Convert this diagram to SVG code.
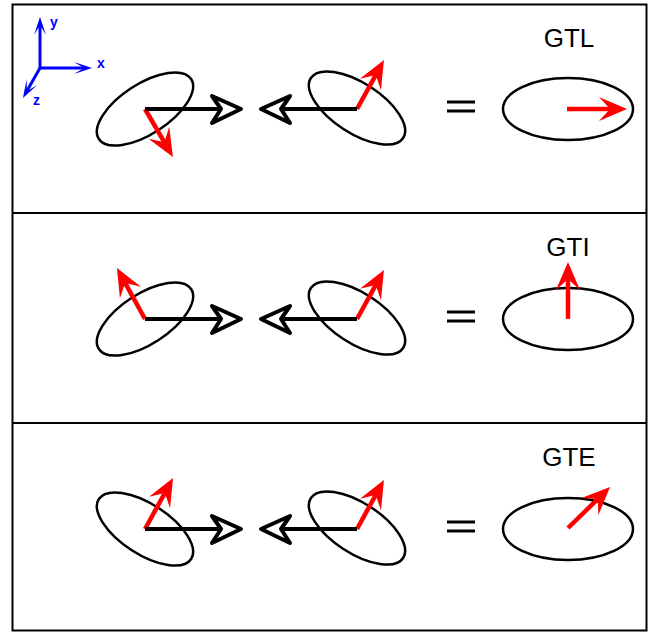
<svg xmlns="http://www.w3.org/2000/svg" width="659" height="633" viewBox="0 0 659 633">
<style>
.frame{fill:none;stroke:#000;stroke-width:2}
.ell{fill:none;stroke:#000;stroke-width:2.5}
.blk{stroke:#000;stroke-width:4;fill:none}
.head{stroke:#000;stroke-width:4;fill:#fff;stroke-linejoin:round}
.red{stroke:#ff0000;stroke-width:4.5;fill:none;marker-end:url(#rh)}
.blue{stroke:#0000ff;stroke-width:3;fill:none;marker-end:url(#bh)}
.eq{stroke:#000;stroke-width:3}
.lbl{font-family:"Liberation Sans",Arial,sans-serif;font-size:26px;fill:#000;text-anchor:middle}
.ax{font-family:"Liberation Sans",Arial,sans-serif;font-size:14px;font-weight:bold;fill:#0000ff}
</style>
<defs>
<marker id="rh" markerUnits="userSpaceOnUse" orient="auto" refX="-14" refY="0" markerWidth="40" markerHeight="40" overflow="visible">
<path d="M0,0 L-28,-12 L-17,0 L-28,12 Z" fill="#ff0000"/>
</marker>
<marker id="bh" markerUnits="userSpaceOnUse" orient="auto" refX="-8" refY="0" markerWidth="30" markerHeight="30" overflow="visible">
<path d="M0,0 L-18,-6 L-8,0 L-18,6 Z" fill="#0000ff"/>
</marker>
</defs>
<rect class="frame" x="12.5" y="4.5" width="634" height="626"/>
<line class="frame" x1="12.5" y1="213" x2="646.5" y2="213"/>
<line class="frame" x1="12.5" y1="423" x2="646.5" y2="423"/>
<g id="axes">
<line class="blue" x1="40" y1="68" x2="40" y2="25"/>
<line class="blue" x1="40" y1="68" x2="84" y2="68"/>
<line class="blue" x1="40" y1="68" x2="26.9" y2="91"/>
<text class="ax" x="50" y="27">y</text>
<text class="ax" x="97" y="68">x</text>
<text class="ax" x="33" y="105">z</text>
</g>
<g id="row1-left">
<ellipse class="ell" cx="145" cy="109" rx="55" ry="25" transform="rotate(-33 145 109)"/>
<line class="red" x1="145" y1="109" x2="165.9" y2="144.9"/>
</g>
<g id="row1-mid">
<ellipse class="ell" cx="357" cy="108" rx="55" ry="25" transform="rotate(33 357 108)"/>
<line class="red" x1="357" y1="109" x2="377.2" y2="72.3"/>
</g>
<g id="row1-eq"><line class="eq" x1="447" y1="102" x2="475" y2="102"/><line class="eq" x1="447" y1="111" x2="475" y2="111"/></g>
<g id="row1-right">
<text class="lbl" x="569" y="47">GTL</text>
<ellipse class="ell" cx="568" cy="109" rx="65" ry="31"/>
<line class="red" x1="567" y1="109" x2="613" y2="109"/>
</g>
<g id="row2-left">
<ellipse class="ell" cx="145" cy="319" rx="55" ry="25" transform="rotate(-33 145 319)"/>
<line class="red" x1="145" y1="319" x2="123.7" y2="280.3"/>
</g>
<g id="row2-mid">
<ellipse class="ell" cx="357" cy="318" rx="55" ry="25" transform="rotate(33 357 318)"/>
<line class="red" x1="357" y1="319" x2="377.2" y2="282.3"/>
</g>
<g id="row2-eq"><line class="eq" x1="447" y1="312" x2="475" y2="312"/><line class="eq" x1="447" y1="321" x2="475" y2="321"/></g>
<g id="row2-right">
<text class="lbl" x="568" y="256">GTI</text>
<ellipse class="ell" cx="568" cy="319" rx="65" ry="31"/>
<line class="red" x1="568" y1="319" x2="568" y2="276"/>
</g>
<g id="row3-left">
<ellipse class="ell" cx="145" cy="529" rx="55" ry="25" transform="rotate(33 145 529)"/>
<line class="red" x1="145" y1="529" x2="166.3" y2="490.3"/>
</g>
<g id="row3-mid">
<ellipse class="ell" cx="357" cy="528" rx="55" ry="25" transform="rotate(33 357 528)"/>
<line class="red" x1="357" y1="529" x2="377.2" y2="492.3"/>
</g>
<g id="row3-eq"><line class="eq" x1="447" y1="522" x2="475" y2="522"/><line class="eq" x1="447" y1="531" x2="475" y2="531"/></g>
<g id="row3-right">
<text class="lbl" x="569" y="466">GTE</text>
<ellipse class="ell" cx="568" cy="529" rx="65" ry="31"/>
<line class="red" x1="568" y1="528" x2="600" y2="496.8"/>
</g>
<g id="connectors">
<g id="row1-arrows">
<line class="blk" x1="145" y1="109" x2="221" y2="109"/>
<path class="head" d="M212,96 L241,109 L212,123 L221,109 Z"/>
<line class="blk" x1="357" y1="109" x2="281" y2="109"/>
<path class="head" d="M290,96 L261,109 L290,123 L281,109 Z"/>
</g>
<g id="row2-arrows" transform="translate(0,210)">
<line class="blk" x1="145" y1="109" x2="221" y2="109"/>
<path class="head" d="M212,96 L241,109 L212,123 L221,109 Z"/>
<line class="blk" x1="357" y1="109" x2="281" y2="109"/>
<path class="head" d="M290,96 L261,109 L290,123 L281,109 Z"/>
</g>
<g id="row3-arrows" transform="translate(0,420)">
<line class="blk" x1="145" y1="109" x2="221" y2="109"/>
<path class="head" d="M212,96 L241,109 L212,123 L221,109 Z"/>
<line class="blk" x1="357" y1="109" x2="281" y2="109"/>
<path class="head" d="M290,96 L261,109 L290,123 L281,109 Z"/>
</g>
</g>
</svg>
